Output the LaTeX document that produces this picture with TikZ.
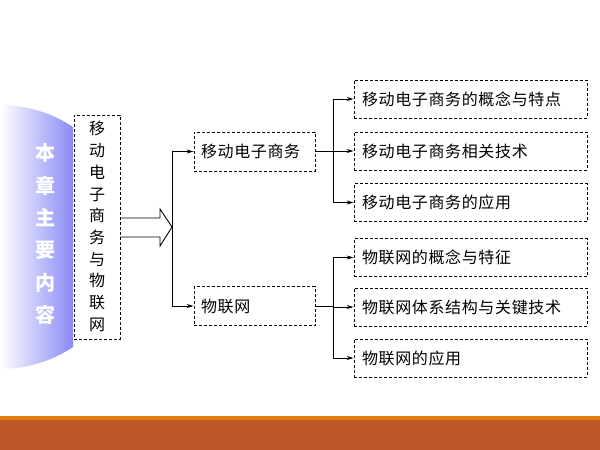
\documentclass[tikz,border=0pt]{standalone}
\usepackage{fontspec}
\newfontfamily\cjk{Noto Sans CJK SC}
\newfontfamily\cjkw[LetterSpace=4]{Noto Sans CJK SC}
\usetikzlibrary{positioning,arrows.meta,calc}
\definecolor{bandorange}{HTML}{E07E10}
\definecolor{bandbrown}{HTML}{BE582B}
\definecolor{capblue}{HTML}{8A8AF7}

\begin{document}
\begin{tikzpicture}[x=1pt, y=-1pt,
  lbl/.style={font=\cjkw\fontsize{16}{16}\selectfont},
  dbox/.style={draw=black, dashed, dash pattern=on 3pt off 2pt, line width=0.8pt},
  midbox/.style={dbox, lbl, minimum height=39pt, text width=107pt, inner xsep=7pt, align=left},
  leafbox/.style={dbox, lbl, minimum height=38pt, text width=217pt, inner xsep=8pt, align=left},
  link/.style={draw=black, line width=0.9pt},
  arr/.style={link, -{Stealth[length=7pt, width=4pt]}}
]
\useasboundingbox (0,0) rectangle (600,450);

% bottom band
\fill[bandorange] (0,416) rectangle (600,420);
\fill[bandbrown] (0,420) rectangle (600,450);

% left caption
\begin{scope}
  \clip (0,237) circle[radius=132pt];
  \shade[left color=white, right color=capblue] (0,100) rectangle (73,375);
\end{scope}
\node[text=white, font=\cjk\bfseries\fontsize{20}{32.4}\selectfont, align=center] (cap) at (45.5,234)
  {本\\章\\主\\要\\内\\容};

% vertical title box
\node[dbox, minimum width=46pt, minimum height=224pt, inner sep=0pt] (vbox) at (97,227) {};
\node[font=\cjk\fontsize{16}{21.7}\selectfont, align=center, inner sep=0pt] (vtxt) at (97,226.5)
  {移\\动\\电\\子\\商\\务\\与\\物\\联\\网};

% hollow arrow
\coordinate (hub) at (172,227);
\draw[link, line join=miter] (vbox.east |- 0,218) -- (160,218) -- (160,209) -- (hub)
  -- (160,246) -- (160,237) -- (vbox.east |- 0,237);

% second level
\node[midbox] (mc) at (254.5,151.5) {移动电子商务};
\node[midbox] (iot) at (254.5,306) {物联网};
\draw[arr] (hub) |- (mc.west);
\draw[arr] (hub) |- (iot.west);

% third level
\node[leafbox] (mc1) at (470.5,99) {移动电子商务的概念与特点};
\node[leafbox] (mc2) at (470.5,151) {移动电子商务相关技术};
\node[leafbox] (mc3) at (470.5,202.5) {移动电子商务的应用};
\node[leafbox] (iot1) at (470.5,257.5) {物联网的概念与特征};
\node[leafbox] (iot2) at (470.5,307) {物联网体系结构与关键技术};
\node[leafbox] (iot3) at (470.5,358) {物联网的应用};

\coordinate (j1) at (333,151.5);
\coordinate (j2) at (333,306);
\draw[link] (mc.east) -- (j1);
\draw[link] (iot.east) -- (j2);
\draw[arr] (j1) |- (mc1.west);
\draw[arr] (j1) |- (mc2.west);
\draw[arr] (j1) |- (mc3.west);
\draw[arr] (j2) |- (iot1.west);
\draw[arr] (j2) |- (iot2.west);
\draw[arr] (j2) |- (iot3.west);

\end{tikzpicture}
\end{document}
